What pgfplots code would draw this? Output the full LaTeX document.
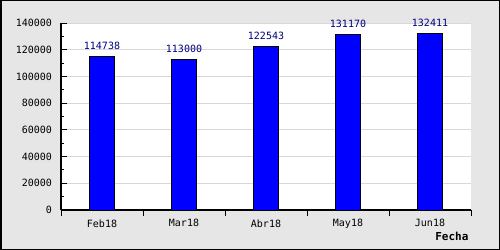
\documentclass[border=0pt]{standalone}
\usepackage{pgfplots}
\pgfplotsset{compat=1.18}
\usepackage{fontspec}
\setmainfont{DejaVu Sans Mono}
\definecolor{bggray}{HTML}{E6E6E6}
\definecolor{gridgray}{HTML}{D8D8D8}
\definecolor{barblue}{HTML}{0000FF}
\definecolor{labnavy}{HTML}{000080}
\begin{document}
\begin{tikzpicture}
\fill[bggray] (0,0) rectangle (500bp,250bp);
\draw[black, line width=1.5bp] (0.75bp,0.75bp) rectangle (499.25bp,249.25bp);
\begin{axis}[
  at={(61bp,40bp)}, anchor=south west,
  scale only axis, width=410bp, height=187bp,
  axis background/.style={fill=white},
  axis x line*=bottom, axis y line*=left,
  axis line style={black, line width=1.2bp, -},
  xmin=-0.5, xmax=4.5, ymin=0, ymax=140000,
  ytick={0,20000,...,140000},
  minor y tick num=1,
  ymajorgrids, major grid style={gridgray, line width=0.9bp},
  tick align=inside,
  major tick length=6bp, minor tick length=3bp,
  tick style={black, line width=0.9bp},
  xtick={-0.5,0.5,...,4.5}, xticklabels={{},{},{},{},{},{}},
  extra x ticks={0,1,2,3,4},
  extra x tick labels={Feb18,Mar18,Abr18,May18,Jun18},
  extra x tick style={major tick length=0pt, tick style={draw=none}, xticklabel style={yshift=-6bp}},
  scaled y ticks=false,
  /pgf/number format/assume math mode=true,
  yticklabel style={/pgf/number format/fixed, /pgf/number format/precision=0, /pgf/number format/1000 sep={}, xshift=-5.5bp},
  font=\fontsize{10bp}{12bp}\selectfont,
  ticklabel style={font=\fontsize{10bp}{12bp}\selectfont},
  xlabel={\textbf{Fecha}},
  xlabel style={at={(axis description cs:1,0)}, anchor=north east, xshift=1bp, yshift=-18.5bp, font=\fontsize{11bp}{13bp}\selectfont},
  ybar, bar width=25bp,
  point meta=explicit symbolic,
  nodes near coords,
  every node near coord/.append style={text=labnavy, anchor=south, yshift=3bp, font=\fontsize{10bp}{12bp}\selectfont},
  clip=false,
]
\addplot[fill=barblue, draw=black, line width=1bp] coordinates {
  (0,114738) [114738]
  (1,113000) [113000]
  (2,122543) [122543]
  (3,131170) [131170]
  (4,132411) [132411]
};
\end{axis}
\pgfresetboundingbox
\path[use as bounding box] (0,0) rectangle (500bp,250bp);
\end{tikzpicture}
\end{document}
